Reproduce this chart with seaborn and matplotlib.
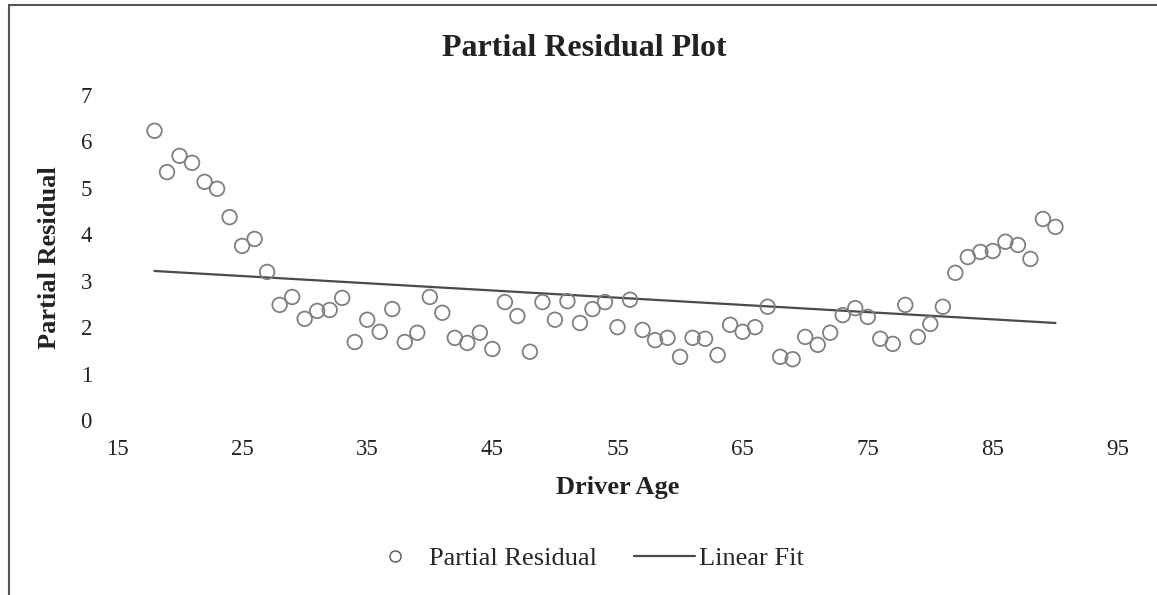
import numpy as np
import pandas as pd
import matplotlib
matplotlib.use("Agg")
import matplotlib.pyplot as plt
import seaborn as sns
from matplotlib.patches import Rectangle
from matplotlib.lines import Line2D

# values
ages = list(range(18, 91))
partial_residual = [6.23, 5.34, 5.69, 5.54, 5.13, 4.98, 4.37, 3.75, 3.90, 3.19,
                    2.48, 2.65, 2.18, 2.35, 2.37, 2.63, 1.68, 2.16, 1.90, 2.39,
                    1.68, 1.88, 2.65, 2.31, 1.77, 1.66, 1.88, 1.53, 2.54, 2.24,
                    1.47, 2.54, 2.16, 2.56, 2.09, 2.39, 2.54, 2.00, 2.59, 1.94,
                    1.72, 1.77, 1.36, 1.77, 1.75, 1.40, 2.05, 1.90, 2.00, 2.44,
                    1.36, 1.31, 1.79, 1.62, 1.88, 2.26, 2.41, 2.22, 1.75, 1.64,
                    2.48, 1.79, 2.07, 2.44, 3.17, 3.51, 3.62, 3.64, 3.84, 3.77,
                    3.47, 4.33, 4.16]
fit_ages = [18, 90]
fit_values = [3.21, 2.09]

x_ticks = [15, 25, 35, 45, 55, 65, 75, 85, 95]
y_ticks = [0, 1, 2, 3, 4, 5, 6, 7]

df = pd.DataFrame({"age": ages, "resid": partial_residual})
fit = pd.DataFrame({"age": fit_ages, "value": fit_values})

sns.set_theme(style="white")
plt.rcParams["font.family"] = ["Liberation Serif", "DejaVu Serif"]

fig = plt.figure(figsize=(11.57, 5.95), dpi=100)
ax = fig.add_axes([0.1011, 0.2941, 0.8652, 0.5462])

sns.lineplot(data=fit, x="age", y="value", ax=ax, color="#4a4a4a", linewidth=1.6)
sns.scatterplot(data=df, x="age", y="resid", ax=ax, s=110, facecolor="none",
                edgecolor="#808080", linewidth=1.3, zorder=3)

ax.set_xlim(15, 95)
ax.set_ylim(0, 7)
ax.set_xticks(x_ticks)
ax.set_yticks(y_ticks)
ax.tick_params(axis="both", labelsize=16.5, length=0, colors="#222222")
ax.tick_params(axis="x", pad=14)
ax.tick_params(axis="y", pad=18)
for s in ax.spines.values():
    s.set_visible(False)
ax.grid(False)

ax.set_xlabel("Driver Age", fontsize=19, fontweight="bold", color="#222222", labelpad=11)
ax.set_ylabel("Partial Residual", fontsize=19, fontweight="bold", color="#222222", labelpad=14)
fig.text(0.505, 0.918, "Partial Residual Plot", ha="center", va="center",
         fontsize=23, fontweight="bold", color="#222222")

handles = [Line2D([], [], marker="o", linestyle="none", markerfacecolor="none",
                  markeredgecolor="#555555", markersize=8, markeredgewidth=1.0),
           Line2D([], [], color="#4a4a4a", linewidth=1.6)]
fig.legend(handles, ["Partial Residual", "Linear Fit"], loc="center",
           bbox_to_anchor=(0.505, 0.062), ncol=2, frameon=False, fontsize=19,
           handlelength=2.3, handletextpad=0.15, columnspacing=1.4)

fig.patches.append(Rectangle((0.008, -0.01), 1.1, 1.002, transform=fig.transFigure,
                             fill=False, edgecolor="#555555", linewidth=1.5))

fig.savefig("out.png", dpi=100)
